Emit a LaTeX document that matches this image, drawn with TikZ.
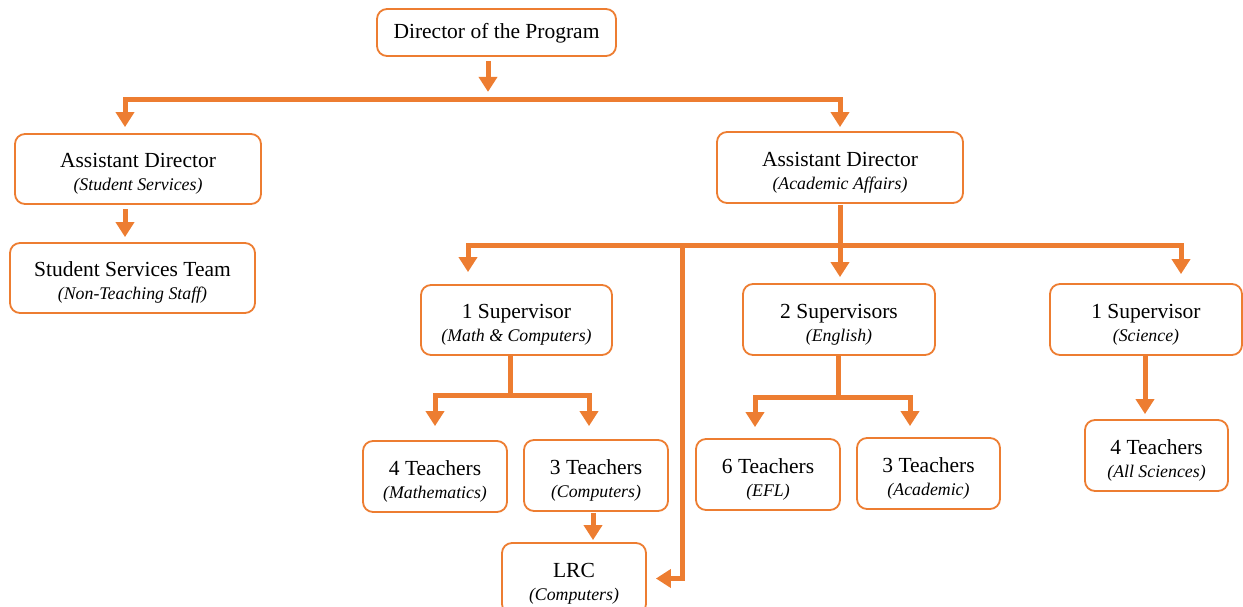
\documentclass[tikz,border=0pt]{standalone}
\usepackage{fontspec}
\setmainfont{Liberation Serif}
\usetikzlibrary{arrows.meta}
\definecolor{org}{HTML}{ED7D31}
\tikzset{
 box/.style={draw=org, line width=1.8pt, rounded corners=10pt, fill=white, align=center, inner sep=0pt,
   font=\fontsize{21.5}{23}\selectfont},
 arr/.style={draw=org, line width=5pt, -{Triangle[width=18pt,length=15pt]}},
 ln/.style={draw=org, line width=5pt},
}
\newcommand{\bt}[2]{\rule{0pt}{24pt}#1\\{\fontsize{17.8}{23}\selectfont\itshape #2}}
\begin{document}
\begin{tikzpicture}[x=1pt,y=-1pt]
\useasboundingbox (0,0) rectangle (1243,607);
% nodes
\node[box, minimum width=239pt, minimum height=47pt] (dir) at (496.5,32.5) {\rule{0pt}{17pt}Director of the Program};
\node[box, minimum width=246pt, minimum height=70pt] (ads) at (138,169) {\bt{Assistant Director}{(Student Services)}};
\node[box, minimum width=245pt, minimum height=70pt] (sst) at (132.5,278) {\bt{Student Services Team}{(Non-Teaching Staff)}};
\node[box, minimum width=246pt, minimum height=71pt] (ada) at (840,167.5) {\bt{Assistant Director}{(Academic Affairs)}};
\node[box, minimum width=191pt, minimum height=70pt] (smc) at (516.5,320) {\bt{1 Supervisor}{(Math \& Computers)}};
\node[box, minimum width=192pt, minimum height=71pt] (sme) at (839,319.5) {\bt{2 Supervisors}{(English)}};
\node[box, minimum width=192pt, minimum height=71pt] (ssc) at (1146,319.5) {\bt{1 Supervisor}{(Science)}};
\node[box, minimum width=144pt, minimum height=71pt] (tm) at (435,476.5) {\bt{4 Teachers}{(Mathematics)}};
\node[box, minimum width=144pt, minimum height=71pt] (tc) at (596,475.5) {\bt{3 Teachers}{(Computers)}};
\node[box, minimum width=144pt, minimum height=71pt] (te) at (768,474.5) {\bt{6 Teachers}{(EFL)}};
\node[box, minimum width=143pt, minimum height=71pt] (ta) at (928.5,473.5) {\bt{3 Teachers}{(Academic)}};
\node[box, minimum width=143pt, minimum height=71pt] (ts) at (1156.5,455.5) {\bt{4 Teachers}{(All Sciences)}};
\node[box, minimum width=144pt, minimum height=71pt] (lrc) at (574,578.5) {\bt{LRC}{(Computers)}};
% junction coordinates
\coordinate (b0) at (125,100);
\coordinate (b1) at (840,100);
\coordinate (c0) at (468,245);
\coordinate (c1) at (1181,245);
\coordinate (c2) at (682,245);
\coordinate (m) at (510,395);
\coordinate (e) at (838,397);
% connectors
\draw[arr] ([xshift=-8.5pt,yshift=-4pt]dir.south) -- ++(0,31);
\draw[arr, shorten >=6pt] (b1) -- (b0) -- (b0 |- ads.north);
\draw[arr, shorten >=4pt] (b0) -- (b1) -- (b1 |- ada.north);
\draw[arr, shorten >=5pt] ([xshift=-13pt,yshift=-4pt]ads.south) -- ([xshift=-7.5pt]sst.north);
\draw[arr, shorten >=6pt] ([yshift=-1pt]ada.south) -- (ada.south |- sme.north);
\draw[arr, shorten >=12pt] (c1) -- (c0) -- (c0 |- smc.north);
\draw[arr, shorten >=9pt] (c0) -- (c1) -- (c1 |- ssc.north);
\draw[arr, shorten >=9pt] (c2) -- (c2 |- lrc.east) -- (lrc.east);
\draw[ln] ([xshift=-6.5pt]smc.south) -- (m);
\draw[arr, shorten >=14pt] (m) -| (tm.north);
\draw[arr, shorten >=13pt] (m) -| ([xshift=-7pt]tc.north);
\draw[arr, shorten >=2pt] ([xshift=-3pt,yshift=-1pt]tc.south) -- ([xshift=19pt]lrc.north);
\draw[ln] ([xshift=-1pt]sme.south) -- (e);
\draw[arr, shorten >=11pt] (e) -| ([xshift=-13pt]te.north);
\draw[arr, shorten >=11pt] (e) -| ([xshift=-18.5pt]ta.north);
\draw[arr, shorten >=5pt] ([xshift=-1pt]ssc.south) -- ([xshift=-11.5pt]ts.north);
\end{tikzpicture}
\end{document}
